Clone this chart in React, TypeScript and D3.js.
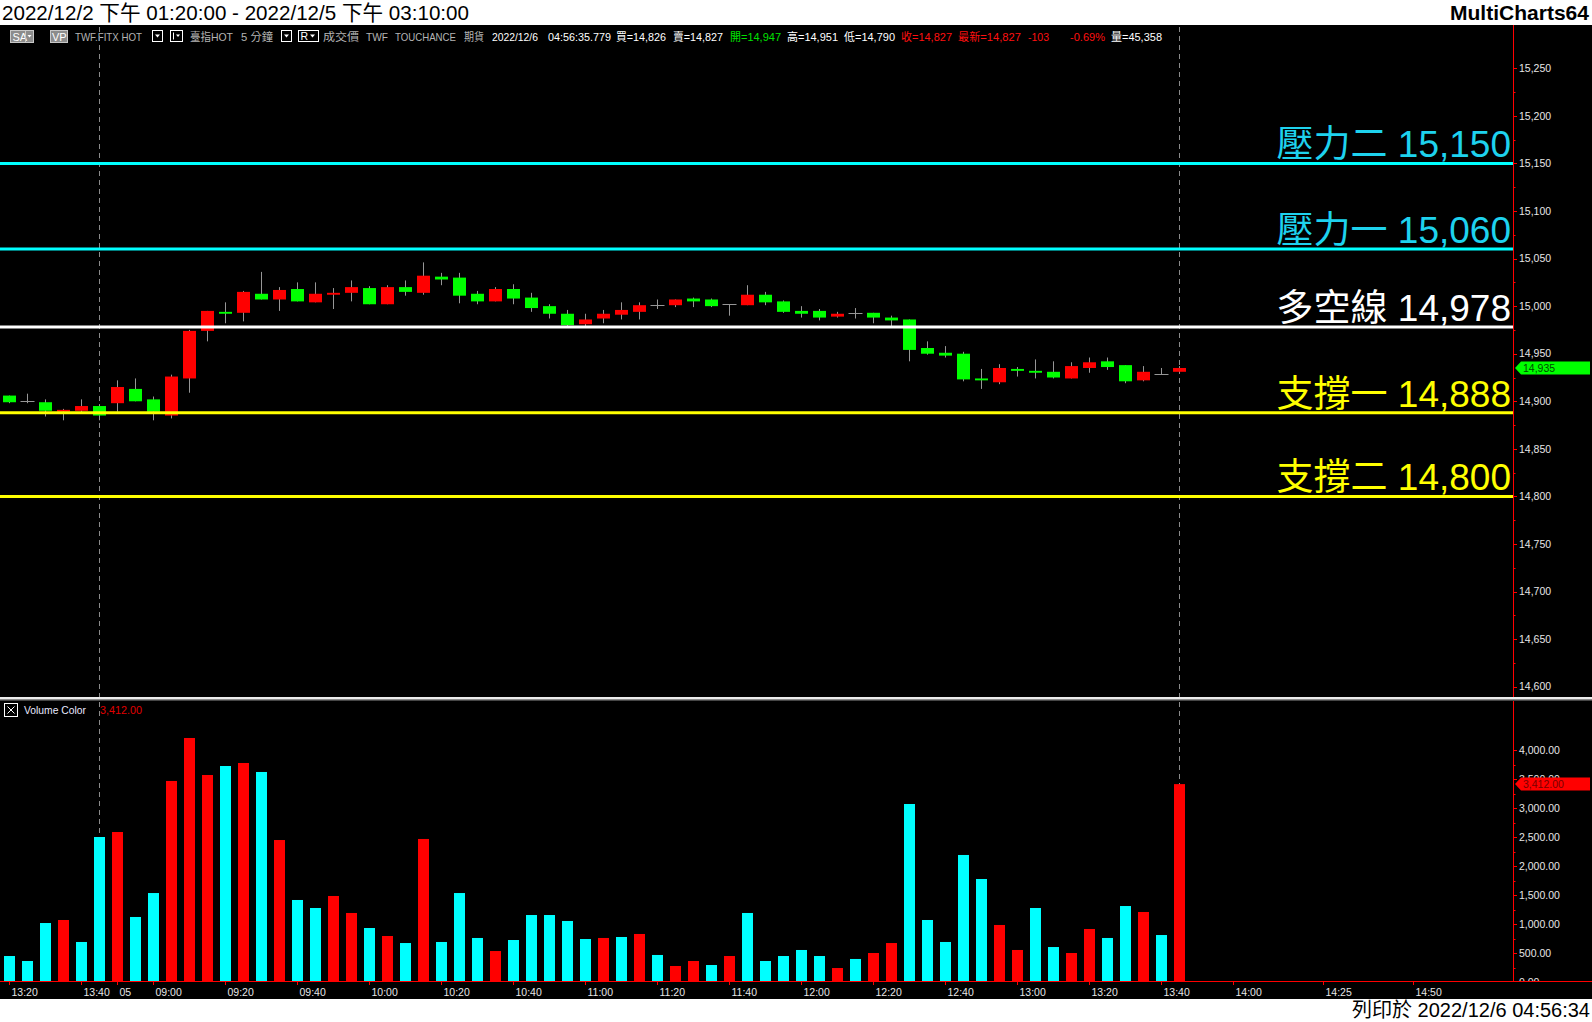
import React from 'react';
import * as d3 from 'd3';

// ---------- DATA ----------
const barTimes = [
  '12/2 13:20', '12/2 13:25', '12/2 13:30', '12/2 13:35', '12/2 13:40', '12/2 13:45',
  '12/5 08:50', '12/5 08:55', '12/5 09:00', '12/5 09:05', '12/5 09:10', '12/5 09:15',
  '12/5 09:20', '12/5 09:25', '12/5 09:30', '12/5 09:35', '12/5 09:40', '12/5 09:45',
  '12/5 09:50', '12/5 09:55', '12/5 10:00', '12/5 10:05', '12/5 10:10', '12/5 10:15',
  '12/5 10:20', '12/5 10:25', '12/5 10:30', '12/5 10:35', '12/5 10:40', '12/5 10:45',
  '12/5 10:50', '12/5 10:55', '12/5 11:00', '12/5 11:05', '12/5 11:10', '12/5 11:15',
  '12/5 11:20', '12/5 11:25', '12/5 11:30', '12/5 11:35', '12/5 11:40', '12/5 11:45',
  '12/5 11:50', '12/5 11:55', '12/5 12:00', '12/5 12:05', '12/5 12:10', '12/5 12:15',
  '12/5 12:20', '12/5 12:25', '12/5 12:30', '12/5 12:35', '12/5 12:40', '12/5 12:45',
  '12/5 12:50', '12/5 12:55', '12/5 13:00', '12/5 13:05', '12/5 13:10', '12/5 13:15',
  '12/5 13:20', '12/5 13:25', '12/5 13:30', '12/5 13:35', '12/5 13:40', '12/5 13:45',
];
const futureTimes = [
  '12/5 13:50', '12/5 13:55', '12/5 14:00', '12/5 14:05', '12/5 14:10', '12/5 14:15',
  '12/5 14:20', '12/5 14:25', '12/5 14:30', '12/5 14:35', '12/5 14:40', '12/5 14:45',
  '12/5 14:50', '12/5 14:55', '12/5 15:00', '12/5 15:05', '12/5 15:10', '12/5 15:15',
];

const opens = [
  14906, 14900, 14899, 14889, 14890, 14895, 14898, 14913, 14902, 14885, 14924, 14974,
  14994, 14993, 15013, 15007, 15018, 15004, 15012, 15014, 15019, 15002, 15020, 15014,
  15031, 15030, 15013, 15005, 15018, 15009, 15000, 14992, 14981, 14987, 14991, 14994,
  15001, 15001, 15008, 15007, 15002, 15001, 15012, 15005, 14995, 14995, 14989, 14993,
  14993, 14988, 14986, 14956, 14951, 14950, 14924, 14920, 14934, 14932, 14931, 14924,
  14935, 14942, 14938, 14922, 14929, 14931,
];
const highs = [
  14906, 14908, 14902, 14892, 14902, 14897, 14922, 14924, 14905, 14928, 14975, 14995,
  15004, 15016, 15036, 15020, 15025, 15025, 15019, 15027, 15021, 15022, 15027, 15046,
  15035, 15035, 15016, 15020, 15023, 15014, 15002, 14996, 14992, 14996, 15004, 15004,
  15007, 15007, 15009, 15008, 15002, 15022, 15015, 15006, 15000, 14997, 14994, 14998,
  14993, 14990, 14986, 14963, 14958, 14952, 14934, 14939, 14936, 14944, 14942, 14941,
  14946, 14946, 14938, 14937, 14935, 14937,
];
const lows = [
  14898, 14898, 14884, 14880, 14888, 14880, 14889, 14900, 14880, 14882, 14909, 14963,
  14982, 14984, 15007, 14995, 15005, 15004, 14997, 15005, 15002, 15002, 15011, 15012,
  15022, 15003, 15002, 15005, 15002, 14994, 14987, 14979, 14979, 14982, 14986, 14986,
  14997, 14999, 14999, 14999, 14990, 15001, 15001, 14993, 14988, 14985, 14988, 14987,
  14982, 14979, 14942, 14949, 14946, 14921, 14913, 14918, 14926, 14924, 14924, 14924,
  14930, 14933, 14919, 14921, 14928, 14930,
];
const closes = [
  14899, 14900, 14890, 14891, 14895, 14885, 14915, 14900, 14889, 14926, 14974, 14995,
  14992, 15015, 15007, 15017, 15005, 15013, 15014, 15020, 15002, 15020, 15015, 15032,
  15028, 15011, 15005, 15018, 15008, 14998, 14992, 14980, 14986, 14992, 14996, 15001,
  15001, 15007, 15005, 15000, 15002, 15012, 15004, 14994, 14992, 14988, 14992, 14993,
  14988, 14985, 14954, 14950, 14948, 14923, 14922, 14935, 14932, 14930, 14925, 14937,
  14941, 14936, 14921, 14931, 14929, 14935,
];
const volumes = [
  448, 362, 1017, 1069, 690, 2500, 2586, 1121, 1534, 3466, 4207, 3569,
  3724, 3776, 3621, 2448, 1414, 1276, 1483, 1190, 931, 793, 672, 2466,
  690, 1534, 759, 534, 724, 1155, 1155, 1052, 741, 759, 776, 828,
  466, 276, 362, 293, 448, 1190, 362, 448, 552, 448, 241, 397,
  500, 672, 3069, 1069, 690, 2190, 1776, 983, 552, 1276, 603, 500,
  914, 759, 1310, 1207, 810, 3412,
];
// 1 = up volume (red), 0 = down volume (cyan)
const volumeUp = [
  0, 0, 0, 1, 0, 0, 1, 0, 0, 1, 1, 1,
  0, 1, 0, 1, 0, 0, 1, 1, 0, 1, 0, 1,
  0, 0, 0, 1, 0, 0, 0, 0, 0, 1, 0, 1,
  0, 1, 1, 0, 1, 0, 0, 0, 0, 0, 1, 0,
  1, 1, 0, 0, 0, 0, 0, 1, 1, 0, 0, 1,
  1, 0, 0, 1, 0, 1,
];

const axisTickTimes = [
  '12/2 13:20', '12/2 13:40', '12/5 08:50', '12/5 09:00', '12/5 09:20', '12/5 09:40',
  '12/5 10:00', '12/5 10:20', '12/5 10:40', '12/5 11:00', '12/5 11:20', '12/5 11:40',
  '12/5 12:00', '12/5 12:20', '12/5 12:40', '12/5 13:00', '12/5 13:20', '12/5 13:40',
  '12/5 14:00', '12/5 14:25', '12/5 14:50',
];
const axisTickLabels = [
  '13:20', '13:40', '05', '09:00', '09:20', '09:40', '10:00', '10:20', '10:40', '11:00',
  '11:20', '11:40', '12:00', '12:20', '12:40', '13:00', '13:20', '13:40', '14:00', '14:25', '14:50',
];
const sessionEnds = ['12/2 13:45', '12/5 13:45'];

const levelNames = ['壓力二', '壓力一', '多空線', '支撐一', '支撐二'];
const levelValues = [15150, 15060, 14978, 14888, 14800];
const levelKinds = ['resist', 'resist', 'pivot', 'support', 'support'];

const priceTicks = [14600, 14650, 14700, 14750, 14800, 14850, 14900, 14950, 15000, 15050, 15100, 15150, 15200, 15250];
const volumeTicks = [0, 500, 1000, 1500, 2000, 2500, 3000, 3500, 4000];
const lastPrice = 14935;
const lastVolume = 3412;

const titleText = '2022/12/2 下午 01:20:00 - 2022/12/5 下午 03:10:00';
const appName = 'MultiCharts64';
const printText = '列印於 2022/12/6 04:56:34';

// info row items: [text, kind]
const infoItems = [
  ['TWF.FITX HOT', 'grey'], ['臺指HOT', 'grey'], ['5 分鐘', 'grey'], ['成交價', 'grey'],
  ['TWF', 'grey'], ['TOUCHANCE', 'grey'], ['期貨', 'grey'], ['2022/12/6', 'white'],
  ['04:56:35.779', 'white'], ['買=14,826', 'white'], ['賣=14,827', 'white'], ['開=14,947', 'green'],
  ['高=14,951', 'white'], ['低=14,790', 'white'], ['收=14,827', 'red'], ['最新=14,827', 'red'],
  ['-103', 'red'], ['-0.69%', 'red'], ['量=45,358', 'white'],
];

// ---------- LAYOUT / STYLE ----------
const W = 1592;
const H = 1022;
const AXIS_X = 1513;
const FONT = "'Liberation Sans', 'Noto Sans CJK TC', sans-serif";
const CJK = "'Noto Sans CJK TC', 'Liberation Sans', sans-serif";
const RED = '#ff0000';
const GREEN = '#00ff00';
const CYAN = '#00ffff';
const WICK = '#969696';
const LEVEL_COLORS: Record<string, string> = { resist: '#00ffff', pivot: '#ffffff', support: '#ffff00' };
const LEVEL_TEXT: Record<string, string> = { resist: '#1ed2ee', pivot: '#ffffff', support: '#ffff00' };
const INFO_COLORS: Record<string, string> = { grey: '#b4b4b4', white: '#ffffff', green: '#00e000', red: '#ff1010' };
// positions (x start, width) of the info row items, measured
const infoPos = [
  [75, 67], [190, 43], [241, 32], [323, 36], [366, 22], [395, 61], [464, 20], [492, 46],
  [548, 63], [616, 50], [673, 50], [730, 51], [787, 51], [844, 51], [901, 51], [958, 63],
  [1028, 21], [1070, 35], [1111, 51],
];

export default function App() {
  const allTimes = [...barTimes, ...futureTimes];
  const x = d3.scaleBand<string>().domain(allTimes).range([0.5, AXIS_X - 0.5]).padding(0);
  const cx = (t: string) => (x(t) as number) + x.bandwidth() / 2;
  const yP = d3.scaleLinear().domain([14600, 15250]).range([686.7, 68.3]);
  const yV = d3.scaleLinear().domain([0, 4000]).range([982, 750]);

  const priceMinor = d3.range(14625, 15250, 50);
  const volMinor = d3.range(250, 4250, 500);

  const candles = barTimes.map((t, i) => {
    const o = opens[i], h = highs[i], l = lows[i], c = closes[i];
    const xc = cx(t);
    const top = yP(Math.max(o, c));
    const bot = yP(Math.min(o, c));
    return (
      <g key={t}>
        <line x1={xc} x2={xc} y1={yP(h)} y2={yP(l)} stroke={WICK} strokeWidth={1} />
        {o === c ? (
          <line x1={xc - 7} x2={xc + 7} y1={Math.round(top) + 0.5} y2={Math.round(top) + 0.5} stroke={WICK} strokeWidth={1} />
        ) : (
          <rect x={xc - 6.5} y={top} width={13} height={Math.max(1.5, bot - top)} fill={c > o ? RED : GREEN} />
        )}
      </g>
    );
  });

  const volBars = barTimes.map((t, i) => {
    const xc = cx(t);
    const yTop = yV(volumes[i]);
    return <rect key={t} x={xc - 5.5} y={yTop} width={11} height={yV(0) - yTop} fill={volumeUp[i] ? RED : CYAN} />;
  });

  const dropBox = (bx: number) => (
    <g>
      <rect x={bx + 0.5} y={30.5} width={10} height={11} fill="#000" stroke="#fff" strokeWidth={1} />
      <path d={`M${bx + 3},${34.5} L${bx + 8},${34.5} L${bx + 5.5},${37.5} Z`} fill="#fff" />
    </g>
  );

  return (
    <div style={{ position: 'absolute', left: 0, top: 0, width: W, height: H }}>
      <svg width={W} height={H} style={{ display: 'block' }} fontFamily={FONT}>
        <defs>
          <clipPath id="volAxisClip">
            <rect x={AXIS_X} y={701} width={W - AXIS_X} height={280.5} />
          </clipPath>
        </defs>
        {/* backgrounds */}
        <rect x={0} y={0} width={W} height={H} fill="#fff" />
        <rect x={0} y={25} width={W} height={974} fill="#000" />

        {/* title bar */}
        <text x={2} y={20} fontSize={21} fill="#000" textLength={467} lengthAdjust="spacingAndGlyphs">{titleText}</text>
        <text x={1589} y={20} fontSize={21} fontWeight="bold" fill="#000" textAnchor="end" textLength={139} lengthAdjust="spacingAndGlyphs">{appName}</text>

        {/* info row */}
        <g>
          <rect x={10.5} y={30.5} width={23} height={12} fill="#8c8c8c" stroke="#c8c8c8" />
          <text x={12.5} y={40.5} fontSize={11} fill="#fff">SA</text>
          <line x1={25.5} x2={25.5} y1={31} y2={42} stroke="#c8c8c8" />
          <path d="M27.5,35 L31.5,35 L29.5,37.5 Z" fill="#fff" />
          <rect x={50.5} y={30.5} width={17} height={12} fill="#8c8c8c" stroke="#c8c8c8" />
          <text x={52} y={40.5} fontSize={11} fill="#fff">VP</text>
          {dropBox(152)}
          <rect x={170.5} y={30.5} width={12} height={11} fill="#000" stroke="#fff" />
          <line x1={173.5} x2={173.5} y1={32.5} y2={39.5} stroke="#fff" />
          <path d="M176,34.5 L180,34.5 L178,37 Z" fill="#fff" />
          {dropBox(281)}
          <rect x={298.5} y={30.5} width={20} height={11} fill="#000" stroke="#fff" />
          <text x={300.5} y={40} fontSize={10.5} fill="#fff">R</text>
          <path d="M310,34.5 L315,34.5 L312.5,37.5 Z" fill="#fff" />
          {infoItems.map(([txt, kind], i) => (
            <text key={i} x={infoPos[i][0]} y={40.5} fontSize={11.5} fill={INFO_COLORS[kind]}
              textLength={infoPos[i][1]} lengthAdjust="spacingAndGlyphs">{txt}</text>
          ))}
        </g>

        {/* session dividers */}
        {sessionEnds.map((t) => (
          <line key={t} x1={cx(t)} x2={cx(t)} y1={27} y2={981} stroke="#8a8a8a" strokeWidth={1} strokeDasharray="5,4" />
        ))}

        {/* candles */}
        {candles}

        {/* level lines and labels */}
        {levelValues.map((v, i) => (
          <g key={levelNames[i]}>
            <line x1={0} x2={AXIS_X} y1={yP(v)} y2={yP(v)} stroke={LEVEL_COLORS[levelKinds[i]]} strokeWidth={3} />
            <text x={AXIS_X - 2} y={yP(v) - 6} fontSize={37} textAnchor="end" fill={LEVEL_TEXT[levelKinds[i]]}>
              <tspan fontFamily={CJK}>{levelNames[i]}</tspan>
              <tspan> {d3.format(',')(v)}</tspan>
            </text>
          </g>
        ))}

        {/* price axis */}
        <line x1={AXIS_X + 0.5} x2={AXIS_X + 0.5} y1={25} y2={697} stroke={RED} />
        {priceTicks.map((p) => (
          <g key={p}>
            <line x1={AXIS_X} x2={AXIS_X + 4} y1={Math.round(yP(p)) + 0.5} y2={Math.round(yP(p)) + 0.5} stroke={RED} />
            <text x={AXIS_X + 6} y={yP(p)} dy="0.35em" fontSize={10.5} fill="#e6e6e6">{d3.format(',')(p)}</text>
          </g>
        ))}
        {priceMinor.map((p) => (
          <line key={p} x1={AXIS_X} x2={AXIS_X + 2.5} y1={Math.round(yP(p)) + 0.5} y2={Math.round(yP(p)) + 0.5} stroke={RED} />
        ))}
        <path d={`M${AXIS_X + 2},${yP(lastPrice)} L${AXIS_X + 8},${yP(lastPrice) - 6.5} L${W - 2},${yP(lastPrice) - 6.5} L${W - 2},${yP(lastPrice) + 6.5} L${AXIS_X + 8},${yP(lastPrice) + 6.5} Z`} fill={GREEN} />
        <text x={AXIS_X + 10} y={yP(lastPrice)} dy="0.35em" fontSize={10.5} fill="#004a00">{d3.format(',')(lastPrice)}</text>

        {/* pane separator */}
        <rect x={0} y={697} width={W} height={2} fill="#ececec" />
        <rect x={0} y={699} width={W} height={1.5} fill="#8c8c8c" />

        {/* volume legend */}
        <rect x={4.5} y={703.5} width={13} height={13} fill="none" stroke="#fff" />
        <path d="M7.5,706.5 L14.5,713.5 M14.5,706.5 L7.5,713.5" stroke="#fff" strokeWidth={1} />
        <text x={24} y={714} fontSize={11} fill="#e8e8ff" textLength={62} lengthAdjust="spacingAndGlyphs">Volume Color</text>
        <text x={100} y={714} fontSize={11} fill="#e00000" textLength={42} lengthAdjust="spacingAndGlyphs">{d3.format(',.2f')(lastVolume)}</text>

        {/* volume bars */}
        {volBars}

        {/* volume axis */}
        <line x1={AXIS_X + 0.5} x2={AXIS_X + 0.5} y1={701} y2={982} stroke={RED} />
        <g clipPath="url(#volAxisClip)">
          {volumeTicks.map((v) => (
            <g key={v}>
              <line x1={AXIS_X} x2={AXIS_X + 4} y1={Math.round(yV(v)) + 0.5} y2={Math.round(yV(v)) + 0.5} stroke={RED} />
              <text x={AXIS_X + 6} y={yV(v)} dy="0.35em" fontSize={10.5} fill="#e6e6e6">{d3.format(',.2f')(v)}</text>
            </g>
          ))}
          {volMinor.map((v) => (
            <line key={v} x1={AXIS_X} x2={AXIS_X + 2.5} y1={Math.round(yV(v)) + 0.5} y2={Math.round(yV(v)) + 0.5} stroke={RED} />
          ))}
        </g>
        <path d={`M${AXIS_X + 2},${yV(lastVolume)} L${AXIS_X + 8},${yV(lastVolume) - 6.5} L${W - 2},${yV(lastVolume) - 6.5} L${W - 2},${yV(lastVolume) + 6.5} L${AXIS_X + 8},${yV(lastVolume) + 6.5} Z`} fill={RED} />
        <text x={AXIS_X + 10} y={yV(lastVolume)} dy="0.35em" fontSize={10.5} fill="#780000">{d3.format(',.2f')(lastVolume)}</text>

        {/* time axis */}
        <line x1={0} x2={W} y1={981.5} y2={981.5} stroke={RED} />
        {axisTickTimes.map((t, i) => (
          <g key={t}>
            <line x1={cx(t)} x2={cx(t)} y1={982} y2={985} stroke={RED} />
            <text x={cx(t) + 2} y={992} dy="0.35em" fontSize={10.5} fill="#e6e6e6">{axisTickLabels[i]}</text>
          </g>
        ))}

        {/* footer */}
        <text x={1590} y={1017} fontSize={20} fill="#000" textAnchor="end">{printText}</text>
      </svg>
    </div>
  );
}
